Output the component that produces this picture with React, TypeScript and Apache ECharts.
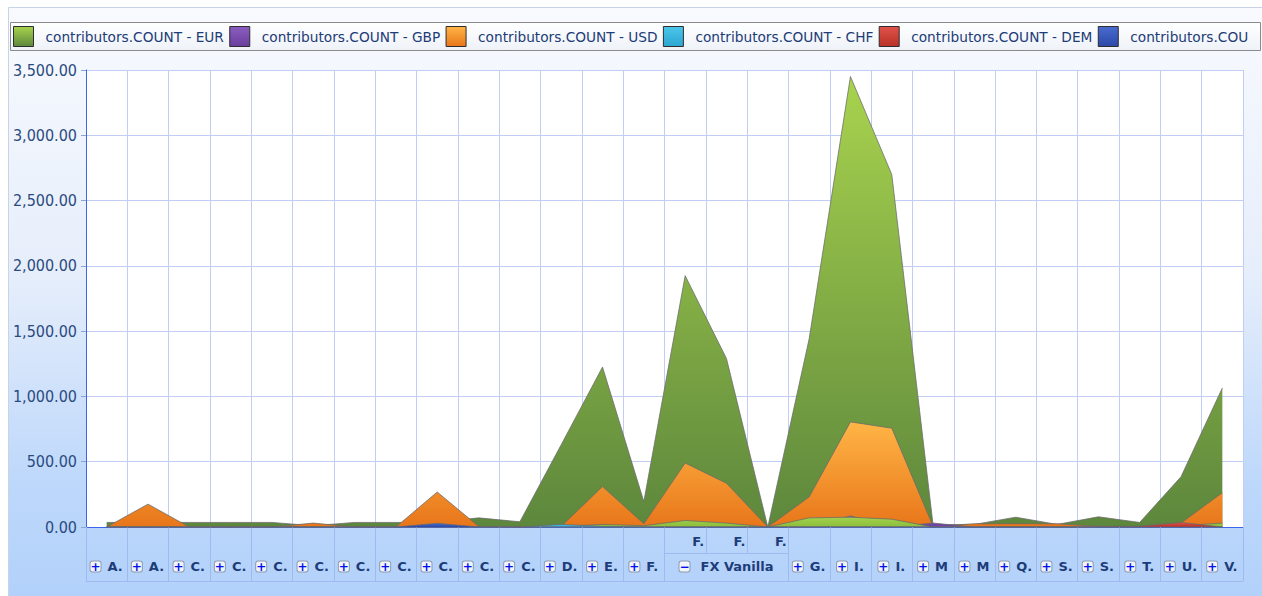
import React, { useEffect, useRef } from 'react';
import * as echarts from 'echarts';

// ---------- data ----------
const categories = ['A.', 'A.', 'C.', 'C.', 'C.', 'C.', 'C.', 'C.', 'C.', 'C.', 'C.', 'D.', 'E.', 'F.', 'F.', 'F.', 'F.', 'G.', 'I.', 'I.', 'M', 'M', 'Q.', 'S.', 'S.', 'T.', 'U.', 'V.'];
const groupLabel = 'FX Vanilla';
const groupMembers = [14, 15, 16];

const eurValues = [35, 35, 35, 35, 35, 10, 35, 35, 35, 70, 40, 630, 1225, 195, 1925, 1290, 0, 1440, 3450, 2700, 15, 20, 75, 20, 78, 35, 385, 1065];
const gbpValues = [0, 0, 0, 0, 0, 0, 0, 0, 0, 0, 0, 0, 0, 0, 0, 0, 0, 0, 85, 0, 30, 0, 0, 0, 0, 0, 0, 0];
const usdValues = [0, 175, 0, 0, 0, 30, 0, 0, 268, 5, 0, 5, 310, 25, 490, 335, 0, 230, 805, 757, 5, 25, 25, 25, 5, 5, 30, 263];
const chfValues = [0, 0, 0, 0, 0, 0, 0, 0, 0, 0, 0, 20, 5, 0, 0, 0, 0, 0, 0, 0, 0, 0, 0, 0, 0, 0, 0, 0];
const demValues = [0, 0, 0, 0, 0, 0, 0, 0, 0, 0, 0, 0, 0, 0, 0, 0, 0, 0, 0, 0, 0, 0, 0, 0, 0, 5, 35, 0];
const blueValues = [0, 0, 0, 0, 0, 0, 0, 0, 28, 0, 0, 0, 0, 0, 0, 0, 0, 0, 0, 0, 0, 0, 0, 0, 0, 0, 0, 0];
const limeValues = [0, 0, 0, 0, 0, 0, 0, 0, 0, 0, 0, 5, 20, 10, 50, 30, 0, 70, 75, 60, 0, 0, 0, 0, 0, 0, 10, 30];

const seriesNames = [
  'contributors.COUNT - EUR',
  'contributors.COUNT - GBP',
  'contributors.COUNT - USD',
  'contributors.COUNT - CHF',
  'contributors.COUNT - DEM',
  'contributors.COUNT - JPY',
  'contributors.COUNT - AUD',
];

const yMin = 0;
const yMax = 3500;
const yStep = 500;

// ---------- styles ----------
const vgrad = (top: string, bottom: string) =>
  new echarts.graphic.LinearGradient(0, 0, 0, 1, [
    { offset: 0, color: top },
    { offset: 1, color: bottom },
  ]);

const labelColor = '#1d3c78';
const cellLine = '#9fbaf0';

export default function App() {
  const ref = useRef<HTMLDivElement>(null);

  useEffect(() => {
    if (!ref.current) return;
    const chart = echarts.init(ref.current, null, { renderer: 'svg' });

    const mk = (name: string, data: number[], top: string, bottom: string, z: number) => ({
      name,
      type: 'line',
      data,
      symbol: 'none',
      z,
      itemStyle: { color: vgrad(top, bottom) },
      lineStyle: { color: '#6a6a6a', width: 1, opacity: 0.75 },
      areaStyle: { color: vgrad(top, bottom), opacity: 1 },
      emphasis: { disabled: true },
    });

    const series = [
      mk(seriesNames[0], eurValues, '#a8d34e', '#5d873c', 2),
      mk(seriesNames[2], usdValues, '#ffb546', '#e8761a', 3),
      mk(seriesNames[1], gbpValues, '#8a5cc0', '#6a3f9e', 4),
      mk(seriesNames[6], limeValues, '#a2d04c', '#8cbf3c', 5),
      mk(seriesNames[3], chfValues, '#4cc6ea', '#2aa6d2', 6),
      mk(seriesNames[4], demValues, '#e0534a', '#b83028', 7),
      mk(seriesNames[5], blueValues, '#4a6cd0', '#2a48a8', 8),
    ];

    const legendText = {
      fontFamily: 'DejaVu Sans',
      fontSize: 13.7,
      color: labelColor,
      width: 180,
      padding: [0, 0, 0, 7],
    };

    const option: any = {
      animation: false,
      backgroundColor: '#ffffff',
      textStyle: { fontFamily: 'DejaVu Sans' },
      graphic: [
        {
          type: 'rect',
          z: -100,
          shape: { x: 8.5, y: 7.5, width: 1260, height: 592 },
          style: {
            fill: new echarts.graphic.LinearGradient(0, 0, 0, 1, [
              { offset: 0, color: '#f8fafe' },
              { offset: 0.45, color: '#e6eefb' },
              { offset: 0.8, color: '#bed8fb' },
              { offset: 1, color: '#b2d1fa' },
            ]),
            stroke: '#c8d3e6',
            lineWidth: 1,
          },
        },
        {
          type: 'rect',
          z: -50,
          shape: { x: 10.5, y: 22.5, width: 1250, height: 28 },
          style: {
            fill: new echarts.graphic.LinearGradient(0, 0, 0, 1, [
              { offset: 0, color: '#ffffff' },
              { offset: 1, color: '#eef2f8' },
            ]),
            stroke: '#8a8a8a',
            lineWidth: 1,
          },
        },
      ],
      legend: {
        left: 13,
        top: 26,
        padding: 0,
        width: 1400,
        itemWidth: 20,
        itemHeight: 20,
        itemGap: 5.4,
        icon: 'rect',
        itemStyle: { borderColor: '#2e2e2e', borderWidth: 1 },
        textStyle: legendText,
        selectedMode: false,
        data: [
          { name: seriesNames[0] },
          { name: seriesNames[1] },
          { name: seriesNames[2] },
          { name: seriesNames[3] },
          { name: seriesNames[4] },
          {
            name: seriesNames[5],
            textStyle: { ...legendText, width: 129.6, overflow: 'truncate', ellipsis: '' },
          },
        ],
      },
      grid: {
        left: 86,
        right: 19,
        top: 70,
        bottom: 69,
        show: true,
        backgroundColor: '#ffffff',
        borderWidth: 0,
      },
      xAxis: [
        {
          type: 'category',
          data: categories,
          boundaryGap: true,
          position: 'bottom',
          axisLine: { show: true, lineStyle: { color: '#3b66ec', width: 1 } },
          axisTick: {
            show: true,
            length: 54,
            interval: (i: number) => !(groupMembers.includes(i) && i !== groupMembers[0]),
            lineStyle: { color: cellLine },
          },
          splitLine: { show: true, interval: 0, lineStyle: { color: '#c2cdf6' } },
          axisLabel: {
            interval: 0,
            margin: 33,
            formatter: (_v: string, i: number) => {
              if (groupMembers.includes(i)) {
                return i === groupMembers[1] ? `{b|−}{g|${groupLabel}}` : '';
              }
              return `{b|+}{t|${categories[i]}}`;
            },
            rich: {
              b: {
                width: 10,
                height: 10,
                align: 'center',
                verticalAlign: 'middle',
                borderColor: '#8d9bb0',
                borderWidth: 1,
                borderRadius: 2,
                backgroundColor: '#f1f4f8',
                color: '#0010ee',
                fontSize: 12,
                fontWeight: 'bold',
                fontFamily: 'DejaVu Sans',
              },
              t: {
                fontSize: 13,
                fontWeight: 'bold',
                color: labelColor,
                fontFamily: 'DejaVu Sans',
                padding: [0, 0, 0, 7],
              },
              g: {
                fontSize: 13,
                fontWeight: 'bold',
                color: labelColor,
                fontFamily: 'DejaVu Sans',
                padding: [0, 0, 0, 11],
              },
            },
          },
        },
        {
          type: 'category',
          data: categories,
          boundaryGap: true,
          position: 'bottom',
          axisLine: { show: false },
          axisTick: {
            show: true,
            length: 26,
            interval: (i: number) => groupMembers.includes(i) && i !== groupMembers[0],
            lineStyle: { color: cellLine },
          },
          splitLine: { show: false },
          axisLabel: {
            interval: 0,
            margin: 8,
            formatter: (_v: string, i: number) => (groupMembers.includes(i) ? `{f|${categories[i]}}` : ''),
            rich: {
              f: {
                width: 38,
                align: 'right',
                fontSize: 13,
                fontWeight: 'bold',
                color: labelColor,
                fontFamily: 'DejaVu Sans',
              },
            },
          },
        },
        {
          type: 'category',
          data: categories,
          position: 'bottom',
          offset: 54,
          axisLine: { show: true, lineStyle: { color: cellLine } },
          axisTick: { show: false },
          axisLabel: { show: false },
          splitLine: { show: false },
        },
      ],
      yAxis: {
        type: 'value',
        min: yMin,
        max: yMax,
        interval: yStep,
        axisLine: { show: true, lineStyle: { color: '#3b66ec' } },
        axisTick: { show: true, length: 5, lineStyle: { color: '#8fa3d0' } },
        splitLine: { show: true, lineStyle: { color: '#c2cdf6' } },
        axisLabel: {
          margin: 9,
          fontSize: 16,
          fontFamily: 'DejaVu Sans Condensed',
          color: '#2a4a80',
          formatter: (v: number) =>
            v.toLocaleString('en-US', { minimumFractionDigits: 2, maximumFractionDigits: 2 }),
        },
      },
      series,
    };

    chart.setOption(option);

    // group separator line under the grouped header cells
    const c0 = chart.convertToPixel({ xAxisIndex: 0 }, groupMembers[0]) as number;
    const c1 = chart.convertToPixel({ xAxisIndex: 0 }, groupMembers[0] + 1) as number;
    const cN = chart.convertToPixel({ xAxisIndex: 0 }, groupMembers[groupMembers.length - 1]) as number;
    const bw = c1 - c0;
    const y0 = chart.convertToPixel({ yAxisIndex: 0 }, 0) as number;
    chart.setOption({
      graphic: [
        option.graphic[0],
        option.graphic[1],
        {
          type: 'line',
          z: 10,
          shape: { x1: c0 - bw / 2, y1: Math.round(y0 + 26) + 0.5, x2: cN + bw / 2, y2: Math.round(y0 + 26) + 0.5 },
          style: { stroke: cellLine, lineWidth: 1 },
        },
      ],
    });

    return () => chart.dispose();
  }, []);

  return (
    <div
      ref={ref}
      style={{ position: 'absolute', left: 0, top: 0, width: 1262, height: 596 }}
    />
  );
}
